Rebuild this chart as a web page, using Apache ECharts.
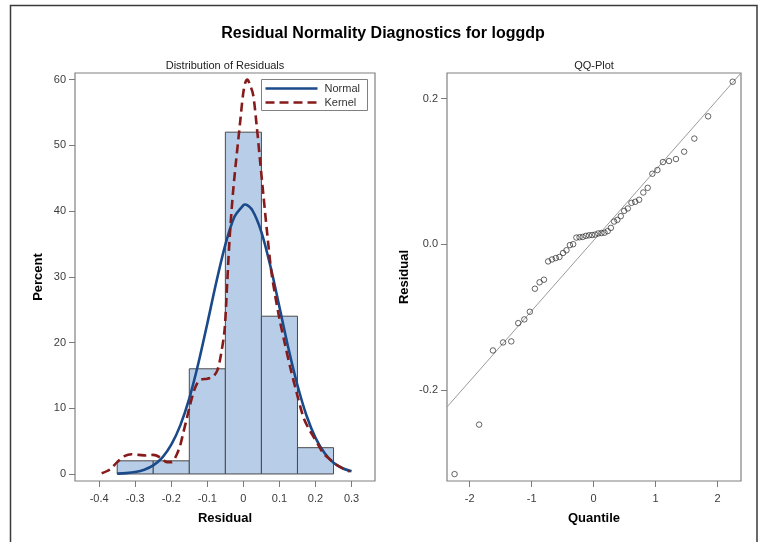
<!DOCTYPE html>
<html><head><meta charset="utf-8">
<script src="https://cdn.jsdelivr.net/npm/echarts@6/dist/echarts.min.js"></script>
<style>html,body{margin:0;padding:0;background:#fff}#c{width:765px;height:542px}</style>
</head><body><div id="c"></div>
<script>
// ---- data ----
const binEdges = [-0.35, -0.25, -0.15, -0.05, 0.05, 0.15, 0.25];
const binPercent = [2, 2, 16, 52, 24, 4];

const normalX = [-0.35,-0.325,-0.3,-0.275,-0.25,-0.225,-0.2,-0.175,-0.15,-0.125,-0.1,-0.075,-0.05,-0.025,0,0.005,0.025,0.05,0.075,0.1,0.125,0.15,0.175,0.2,0.225,0.25,0.275,0.3];
const normalY = [0.05,0.13,0.3,0.65,1.31,2.49,4.45,7.39,11.5,16.8,22.9,29.2,34.9,39.1,40.9,41.0,40.1,36.8,31.6,25.4,19.1,13.5,8.9,5.5,3.2,1.7,0.87,0.41];

const kernelX = [-0.393,-0.37,-0.35,-0.33,-0.31,-0.29,-0.27,-0.25,-0.23,-0.212,-0.198,-0.187,-0.176,-0.167,-0.158,-0.148,-0.139,-0.13,-0.12,-0.1,-0.084,-0.072,-0.062,-0.052,-0.045,-0.038,-0.029,-0.02,-0.01,-0.001,0.005,0.011,0.017,0.027,0.037,0.046,0.055,0.066,0.077,0.087,0.1,0.115,0.13,0.148,0.166,0.18,0.194,0.208,0.221,0.24,0.258,0.277,0.295];
const kernelY = [0.1,0.7,1.8,2.7,3.0,2.9,2.8,2.9,2.5,1.8,1.8,2.7,4.2,6.2,8.2,10.5,12.3,13.6,14.3,14.5,14.8,15.8,18.2,22,29,36,42.7,47.8,53,57.7,59.5,60,59.4,57.7,52.9,47.8,42.7,36.6,31,27.5,23.6,19.8,16.2,12.3,8.7,7,5.7,4.4,3.2,2.2,1.4,0.8,0.35];

const qqQuantile = [-2.243,-1.847,-1.624,-1.46,-1.328,-1.216,-1.118,-1.029,-0.947,-0.872,-0.801,-0.734,-0.671,-0.61,-0.551,-0.493,-0.438,-0.383,-0.33,-0.278,-0.227,-0.176,-0.126,-0.075,-0.025,0.025,0.075,0.126,0.176,0.227,0.278,0.33,0.383,0.438,0.493,0.551,0.61,0.671,0.734,0.801,0.872,0.947,1.029,1.118,1.216,1.328,1.46,1.624,1.847,2.243];
const qqResidual = [-0.3155,-0.2476,-0.1458,-0.1348,-0.1334,-0.1083,-0.1032,-0.0927,-0.0611,-0.0523,-0.0487,-0.0236,-0.0209,-0.019,-0.0175,-0.012,-0.0083,-0.0012,0.0,0.0091,0.0096,0.0100,0.0115,0.0122,0.0126,0.0132,0.0148,0.0153,0.0158,0.018,0.0224,0.0311,0.0334,0.0385,0.0458,0.049,0.0568,0.0582,0.061,0.071,0.0774,0.0967,0.1018,0.1128,0.1142,0.1169,0.127,0.145,0.1755,0.223];

const qqLineX = [-2.365, 2.377];
const qqLineY = [-0.2234, 0.235];

const histXTicks = [-0.4,-0.3,-0.2,-0.1,0,0.1,0.2,0.3];
const histYTicks = [0,10,20,30,40,50,60];
const qqXTicks = [-2,-1,0,1,2];
const qqYTicks = [-0.2,0,0.2];

const legendNames = ['Normal', 'Kernel'];

// ---- chart ----
const FONT = 'Liberation Sans, Arial, sans-serif';
const NORMAL_COLOR = '#1b4a8a';
const KERNEL_COLOR = '#861b1b';
const zip = (a, b) => a.map((v, i) => [v, b[i]]);
const binData = binPercent.map((p, i) => [binEdges[i], binEdges[i + 1], p]);

const axisCommon = {
  axisLine: { show: false, onZero: false },
  splitLine: { show: false },
  axisTick: { show: true, length: 6, lineStyle: { color: '#7a7a7a', width: 1 } },
  axisLabel: { color: '#3c3c3c', fontSize: 11, fontFamily: FONT },
  nameTextStyle: { color: '#000', fontSize: 13, fontWeight: 'bold', fontFamily: FONT },
  nameLocation: 'middle'
};

// manual legend (box at top-right inside the histogram panel)
const LG = { x: 261.5, y: 79.5, w: 106, h: 31 };
const legendGraphic = [
  { type: 'rect', shape: { x: LG.x, y: LG.y, width: LG.w, height: LG.h }, style: { fill: '#fff', stroke: '#808080', lineWidth: 1 }, z: 50 },
  { type: 'line', shape: { x1: LG.x + 4, y1: LG.y + 9, x2: LG.x + 56, y2: LG.y + 9 }, style: { stroke: NORMAL_COLOR, lineWidth: 2.6 }, z: 51 },
  { type: 'line', shape: { x1: LG.x + 4, y1: LG.y + 23, x2: LG.x + 56, y2: LG.y + 23 }, style: { stroke: KERNEL_COLOR, lineWidth: 2.6, lineDash: [9, 5] }, z: 51 },
  { type: 'text', x: LG.x + 63, y: LG.y + 9, style: { text: legendNames[0], fill: '#333', font: '11px ' + FONT, textVerticalAlign: 'middle' }, z: 51 },
  { type: 'text', x: LG.x + 63, y: LG.y + 23, style: { text: legendNames[1], fill: '#333', font: '11px ' + FONT, textVerticalAlign: 'middle' }, z: 51 }
];

const chart = echarts.init(document.getElementById('c'), null, { renderer: 'canvas' });
chart.setOption({
  animation: false,
  backgroundColor: '#fff',
  grid: [
    { left: 75, top: 73, width: 300, height: 408, show: true, borderColor: '#808080', borderWidth: 1.2, backgroundColor: 'transparent' },
    { left: 447, top: 73, width: 294, height: 408, show: true, borderColor: '#808080', borderWidth: 1.2, backgroundColor: 'transparent' }
  ],
  xAxis: [
    Object.assign({}, axisCommon, {
      gridIndex: 0, type: 'value', min: -0.467, max: 0.365, name: 'Residual', nameGap: 31,
      axisTick: Object.assign({}, axisCommon.axisTick, { customValues: histXTicks }),
      axisLabel: Object.assign({}, axisCommon.axisLabel, { customValues: histXTicks, margin: 12,
        formatter: v => { const r = Math.round(v * 10) / 10; return r === 0 ? '0' : String(r); } })
    }),
    Object.assign({}, axisCommon, {
      gridIndex: 1, type: 'value', min: -2.365, max: 2.377, name: 'Quantile', nameGap: 31,
      axisTick: Object.assign({}, axisCommon.axisTick, { customValues: qqXTicks }),
      axisLabel: Object.assign({}, axisCommon.axisLabel, { customValues: qqXTicks, margin: 12,
        formatter: v => String(Math.round(v)) })
    })
  ],
  yAxis: [
    Object.assign({}, axisCommon, {
      gridIndex: 0, type: 'value', min: -1.07, max: 61, name: 'Percent', nameGap: 30,
      axisTick: Object.assign({}, axisCommon.axisTick, { customValues: histYTicks }),
      axisLabel: Object.assign({}, axisCommon.axisLabel, { customValues: histYTicks, margin: 9,
        formatter: v => String(Math.round(v)) })
    }),
    Object.assign({}, axisCommon, {
      gridIndex: 1, type: 'value', min: -0.325, max: 0.235, name: 'Residual', nameGap: 36,
      axisTick: Object.assign({}, axisCommon.axisTick, { customValues: qqYTicks }),
      axisLabel: Object.assign({}, axisCommon.axisLabel, { customValues: qqYTicks, margin: 9,
        formatter: v => (Math.round(v * 10) / 10).toFixed(1) })
    })
  ],
  graphic: [
    { type: 'rect', shape: { x: 10.5, y: 5.5, width: 746.5, height: 560 }, style: { fill: 'none', stroke: '#3a3a3a', lineWidth: 1.5 }, silent: true, z: 100 },
    { type: 'text', x: 383, y: 34, style: { text: 'Residual Normality Diagnostics for loggdp', fill: '#000', font: 'bold 16px ' + FONT, textAlign: 'center', textVerticalAlign: 'middle' } },
    { type: 'text', x: 225, y: 66, style: { text: 'Distribution of Residuals', fill: '#222', font: '11px ' + FONT, textAlign: 'center', textVerticalAlign: 'middle' } },
    { type: 'text', x: 594, y: 66, style: { text: 'QQ-Plot', fill: '#222', font: '11px ' + FONT, textAlign: 'center', textVerticalAlign: 'middle' } }
  ].concat(legendGraphic),
  series: [
    {
      type: 'custom', xAxisIndex: 0, yAxisIndex: 0, data: binData, z: 1,
      renderItem: (params, api) => {
        const p0 = api.coord([api.value(0), api.value(2)]);
        const p1 = api.coord([api.value(1), 0]);
        return { type: 'rect', shape: { x: p0[0], y: p0[1], width: p1[0] - p0[0], height: p1[1] - p0[1] },
          style: { fill: '#b8cde7', stroke: '#4a4a4a', lineWidth: 1 } };
      }
    },
    {
      name: legendNames[0], type: 'line', xAxisIndex: 0, yAxisIndex: 0, data: zip(normalX, normalY),
      smooth: 0.3, showSymbol: false, symbol: 'none', z: 3,
      lineStyle: { color: NORMAL_COLOR, width: 2.6 }, itemStyle: { color: NORMAL_COLOR }
    },
    {
      name: legendNames[1], type: 'line', xAxisIndex: 0, yAxisIndex: 0, data: zip(kernelX, kernelY),
      smooth: 0.3, showSymbol: false, symbol: 'none', z: 4,
      lineStyle: { color: KERNEL_COLOR, width: 2.6, type: [9, 5] }, itemStyle: { color: KERNEL_COLOR }
    },
    {
      type: 'line', xAxisIndex: 1, yAxisIndex: 1, data: zip(qqLineX, qqLineY),
      showSymbol: false, symbol: 'none', lineStyle: { color: '#9a9a9a', width: 1 }, z: 2
    },
    {
      type: 'scatter', xAxisIndex: 1, yAxisIndex: 1, data: zip(qqQuantile, qqResidual),
      symbol: 'circle', symbolSize: 5.5, z: 3,
      itemStyle: { color: 'rgba(255,255,255,0)', borderColor: '#2a2a2a', borderWidth: 0.9 }
    }
  ]
});
</script></body></html>
